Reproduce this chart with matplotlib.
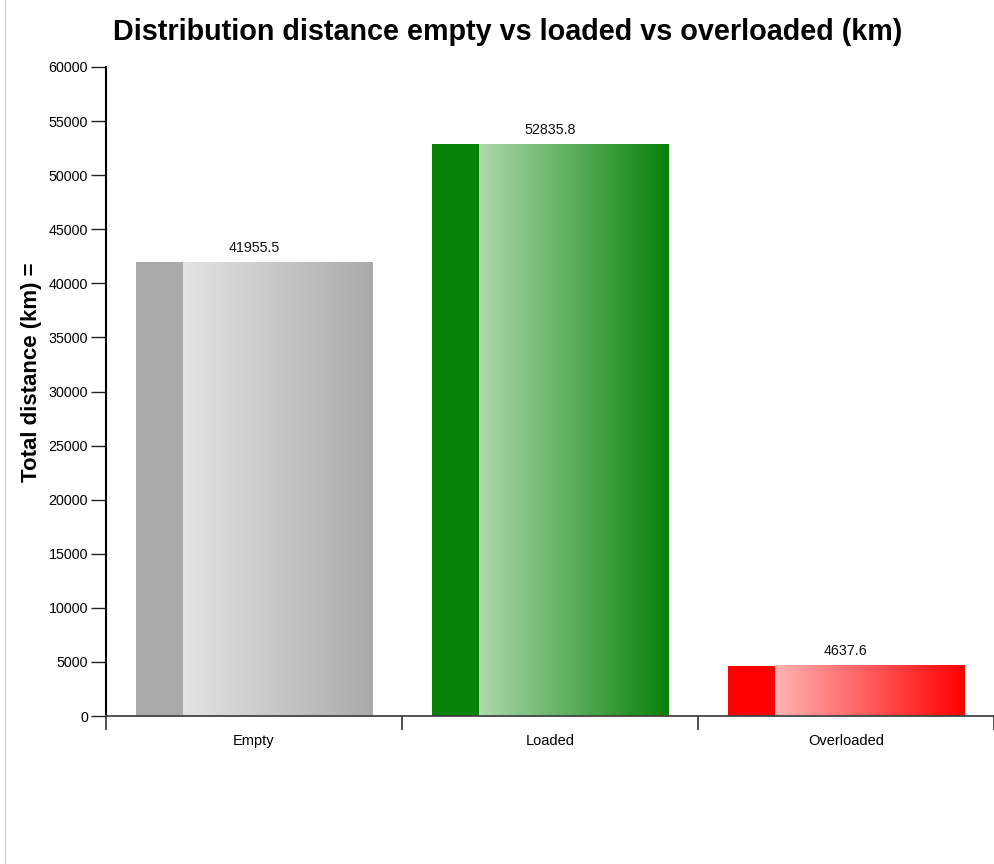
import numpy as np
import matplotlib.pyplot as plt
from matplotlib.colors import LinearSegmentedColormap
from matplotlib.lines import Line2D

categories = ['Empty', 'Loaded', 'Overloaded']
distances = [41955.5, 52835.8, 4637.6]
base_colors = ['#aaaaaa', '#078107', '#ff0000']
light_colors = ['#e4e4e4', '#acd9ac', '#ffb4b4']
yticks = list(range(0, 60001, 5000))

plt.rcParams['font.family'] = ['Liberation Sans', 'DejaVu Sans']

fig = plt.figure(figsize=(9.95, 8.64), dpi=100)
ax = fig.add_axes([106/995, 1-716/864, 888/995, (716-67)/864])

pos = np.arange(len(categories)) + 0.5
bars = ax.bar(pos, distances, width=0.8, color='none')

grad = np.linspace(0, 1, 256).reshape(1, -1)
for b, val, c0, c1 in zip(bars, distances, base_colors, light_colors):
	x0, w = b.get_x(), b.get_width()
	solid = 0.2*w
	# darker solid strip on the left, then light -> dark gradient
	ax.add_patch(plt.Rectangle((x0, 0), solid, val, color=c0, lw=0, zorder=2))
	cm = LinearSegmentedColormap.from_list('g', [c1, c0])
	ax.imshow(grad, cmap=cm, aspect='auto', extent=(x0+solid, x0+w, 0, val), zorder=2)
	ax.text(b.get_x()+w/2, val+700, f'{val}', ha='center', va='bottom', fontsize=10.3, color='#111111')

ax.set_xlim(0, 3)
ax.set_ylim(0, 60000)
ax.set_yticks(yticks)
ax.set_yticklabels([str(t) for t in yticks], fontsize=10.3)
ax.set_xticks([0, 1, 2, 3])
ax.set_xticklabels([])
ax.set_xticks(pos, minor=True)
ax.set_xticklabels(categories, minor=True, fontsize=10.5)
ax.tick_params(axis='x', which='major', length=10, width=1.2, color='#333333')
ax.tick_params(axis='x', which='minor', length=0, pad=13)
ax.tick_params(axis='y', length=11, width=1, pad=2, color='#222222')

for s in ['top', 'right']:
	ax.spines[s].set_visible(False)
ax.spines['left'].set_linewidth(1.5)
ax.spines['bottom'].set_color('#444444')
ax.spines['bottom'].set_linewidth(1.3)

ax.set_ylabel('Total distance (km) =', fontsize=16, fontweight='bold')
ax.yaxis.set_label_coords(-64/888, 0.53)
fig.text(0.51, 0.963, 'Distribution distance empty vs loaded vs overloaded (km)',
	ha='center', va='center', fontsize=20.7, fontweight='bold')

# light border line on the left edge
fig.add_artist(Line2D([5/995, 5/995], [0, 1], color='#d0d0d0', lw=1))

fig.savefig('out.png', dpi=100)
